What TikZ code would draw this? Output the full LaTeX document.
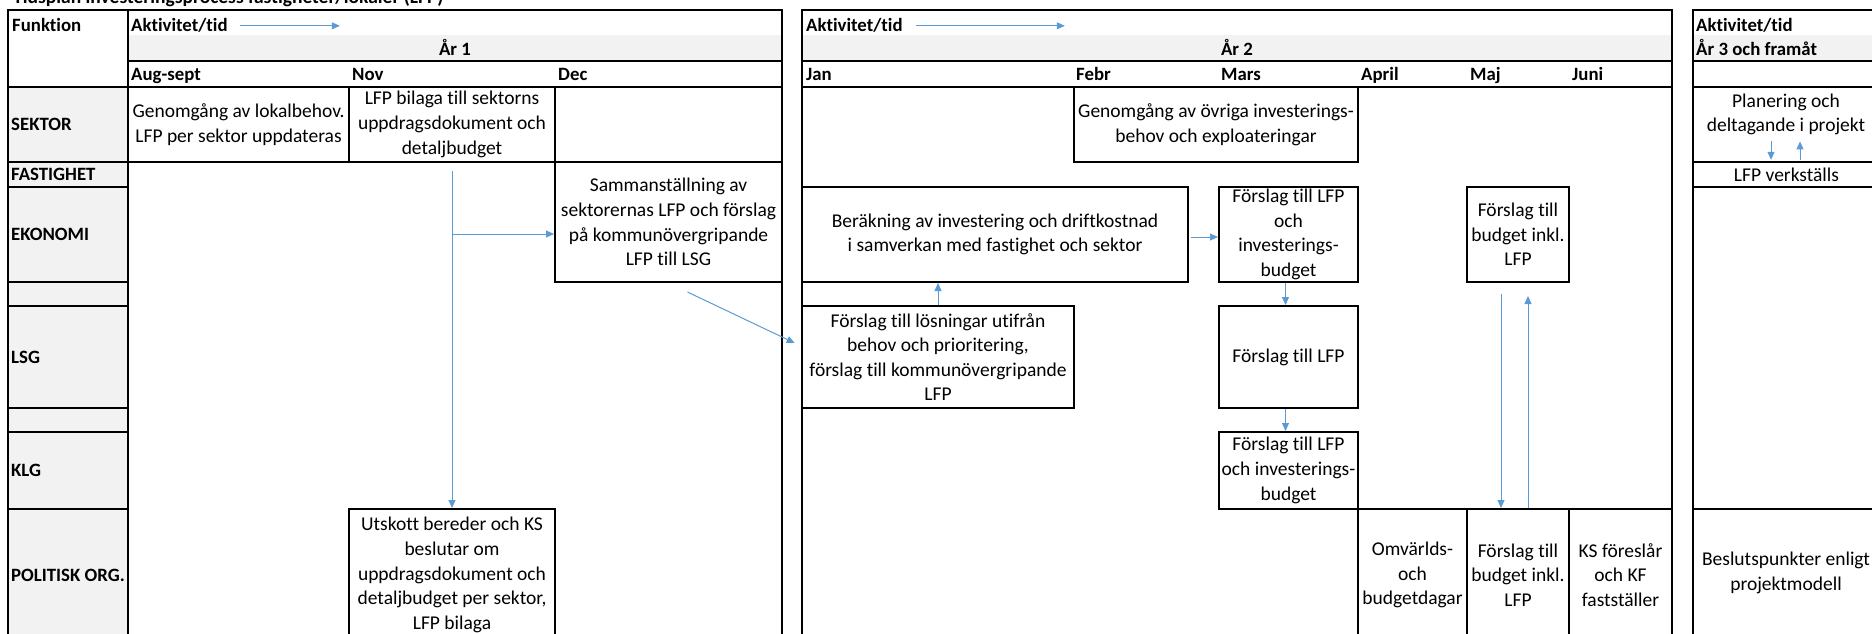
\documentclass[tikz,border=0pt]{standalone}
\usepackage{fontspec}
\setmainfont{Carlito}[Ligatures=NoCommon]
\usepackage{tikz}
\usetikzlibrary{positioning,arrows.meta,calc}

\definecolor{flowblue}{HTML}{5B9BD5}
\definecolor{cellgray}{HTML}{F2F2F2}

\newcommand{\bodysize}{\fontsize{19.5}{24.6}\selectfont}
\newcommand{\labelsize}{\fontsize{18.8}{24.6}\selectfont}

\tikzset{
    tabline/.style={line width=2pt},
    cellbox/.style={draw, line width=2pt, inner sep=0pt, align=center},
    celltext/.style={inner sep=0pt, align=center},
    lbl/.style={anchor=west, inner sep=0pt, font=\labelsize\bfseries},
    headtxt/.style={anchor=base west, inner sep=0pt, font=\labelsize\bfseries},
    flowarrow/.style={draw=flowblue, line width=1pt, -{Triangle[length=8pt,width=7pt]}}
}

\begin{document}
\begin{tikzpicture}[x=1pt, y=-1pt, font=\bodysize]
    \useasboundingbox (0,0) rectangle (1872,634);
    \clip (0,0) rectangle (1872,634);

    \node[headtxt, font=\bodysize\bfseries] (title) at (13,3.5) {Tidsplan investeringsprocess fastigheter/lokaler (LFP)};

    % table
    \fill[cellgray] (8,87) rectangle (128,641);
    \fill[cellgray] (128,35) rectangle (782,61);
    \fill[cellgray] (802,35) rectangle (1672,61);
    \fill[cellgray] (1693,35) rectangle (1880,61);

    \draw[tabline] (8,10) rectangle (128,641);
    \foreach \y in {87,162,187,282,306,408,432,509}
        \draw[tabline] (8,\y) -- (128,\y);
    \draw[tabline] (128,10) rectangle (782,641);
    \foreach \y in {61,87,162}
        \draw[tabline] (128,\y) -- (782,\y);
    \draw[tabline] (802,10) rectangle (1672,641);
    \foreach \y in {61,87}
        \draw[tabline] (802,\y) -- (1672,\y);
    \draw[tabline] (1693,10) rectangle (1880,641);
    \foreach \y in {61,87,162,187,509}
        \draw[tabline] (1693,\y) -- (1880,\y);

    \node[headtxt] (funktion) at (12,32) {Funktion};
    \node[headtxt] (akt1) at (131,32) {Aktivitet/tid};
    \node[headtxt] (akt2) at (806,32) {Aktivitet/tid};
    \node[headtxt] (akt3) at (1696,32) {Aktivitet/tid};
    \node[headtxt, anchor=base] (ar1) at (455,56) {År 1};
    \node[headtxt, anchor=base] (ar2) at (1237,56) {År 2};
    \node[headtxt] (ar3) at (1696,56) {År 3 och framåt};

    \foreach \x/\m/\n in {131/Aug-sept/aug, 352/Nov/nov, 558/Dec/dec, 806/Jan/jan, 1076/Febr/feb,
                          1221/Mars/mar, 1361/April/apr, 1470/Maj/maj, 1572/Juni/jun}
        \node[headtxt] (\n) at (\x,81) {\m};

    \foreach \y/\r/\n in {124.5/SEKTOR/sektor, 174.5/FASTIGHET/fastighet, 234.5/EKONOMI/ekonomi,
                          357/LSG/lsg, 470.5/KLG/klg, 575/POLITISK ORG./politisk}
        \node[lbl] (\n) at (11,\y) {\r};

    % year 1
    \node[cellbox, minimum width=221pt, minimum height=75pt] (genom1) at (238.5,124.5)
        {Genomgång av lokalbehov.\\LFP per sektor uppdateras};
    \node[cellbox, minimum width=206pt, minimum height=75pt] (bilaga) at (452,124.5)
        {LFP bilaga till sektorns\\uppdragsdokument och\\detaljbudget};
    \node[cellbox, minimum width=227pt, minimum height=120pt] (samm) at (668.5,222)
        {Sammanställning av\\sektorernas LFP och förslag\\på kommunövergripande\\LFP till LSG};
    \node[cellbox, minimum width=206pt, minimum height=132pt] (utskott) at (452,575)
        {Utskott bereder och KS\\beslutar om\\uppdragsdokument och\\detaljbudget per sektor,\\LFP bilaga};

    % year 2
    \node[cellbox, minimum width=284pt, minimum height=75pt] (genom2) at (1216,124.5)
        {Genomgång av övriga investerings-\\behov och exploateringar};
    \node[cellbox, minimum width=386pt, minimum height=95pt] (ber) at (995,234.5)
        {Beräkning av investering och driftkostnad\\i samverkan med fastighet och sektor};
    \node[cellbox, minimum width=139pt, minimum height=95pt] (flfp1) at (1288.5,234.5)
        {Förslag till LFP\\och\\investerings-\\budget};
    \node[cellbox, minimum width=102pt, minimum height=95pt] (fbud1) at (1518,234.5)
        {Förslag till\\budget inkl.\\LFP};
    \node[cellbox, minimum width=272pt, minimum height=102pt] (losn) at (938,357)
        {Förslag till lösningar utifrån\\behov och prioritering,\\förslag till kommunövergripande\\LFP};
    \node[cellbox, minimum width=139pt, minimum height=102pt] (flfp2) at (1288.5,357)
        {Förslag till LFP};
    \node[cellbox, minimum width=139pt, minimum height=77pt] (flfp3) at (1288.5,470.5)
        {Förslag till LFP\\och investerings-\\budget};
    \node[cellbox, minimum width=109pt, minimum height=132pt] (omv) at (1412.5,575)
        {Omvärlds-\\och\\budgetdagar};
    \node[cellbox, minimum width=102pt, minimum height=132pt] (fbud2) at (1518,575)
        {Förslag till\\budget inkl.\\LFP};
    \node[cellbox, minimum width=103pt, minimum height=132pt] (ksf) at (1620.5,575)
        {KS föreslår\\och KF\\fastställer};

    % year 3
    \node[celltext] (plan) at (1786,114.5) {Planering och\\deltagande i projekt};
    \node[celltext, minimum width=187pt, minimum height=25pt] (verk) at (1786.5,174.5) {LFP verkställs};
    \node[celltext] (beslut) at (1786,573) {Beslutspunkter enligt\\projektmodell};

    % arrows
    \draw[flowarrow] ([xshift=12pt]akt1.east) -- ++(100,0);
    \draw[flowarrow] ([xshift=13pt]akt2.east) -- ++(149,0);

    \draw[flowarrow, shorten <=8pt] (bilaga.south) -- (utskott.north);
    \coordinate (split) at (452,234);
    \draw[flowarrow] (split) -- (split -| samm.west);
    \draw[flowarrow, shorten <=21pt, shorten >=7pt] (samm.south) -- ([yshift=11pt]losn.west);

    \draw[flowarrow, shorten <=2pt] ([yshift=-2.5pt]ber.east) -- ([yshift=-2.5pt]flfp1.west);
    \draw[flowarrow] (losn.north) -- (losn.north |- ber.south);
    \draw[flowarrow] ([xshift=-3pt]flfp1.south) -- ([xshift=-3pt]flfp2.north);
    \draw[flowarrow] ([xshift=-3pt]flfp2.south) -- ([xshift=-3pt]flfp3.north);
    \draw[flowarrow, shorten <=11pt] ([xshift=-17pt]fbud1.south) -- ([xshift=-17pt]fbud2.north);
    \draw[flowarrow, shorten >=13pt] ([xshift=10pt]fbud2.north) -- ([xshift=10pt]fbud1.south);

    \coordinate (pdown) at ([xshift=-15pt, yshift=-6pt]plan.south);
    \coordinate (pup) at ([xshift=14pt, yshift=-6pt]plan.south);
    \draw[flowarrow, shorten >=2pt] (pdown) -- (pdown |- verk.north);
    \draw[flowarrow, shorten <=2pt] (pup |- verk.north) -- (pup);
\end{tikzpicture}
\end{document}
